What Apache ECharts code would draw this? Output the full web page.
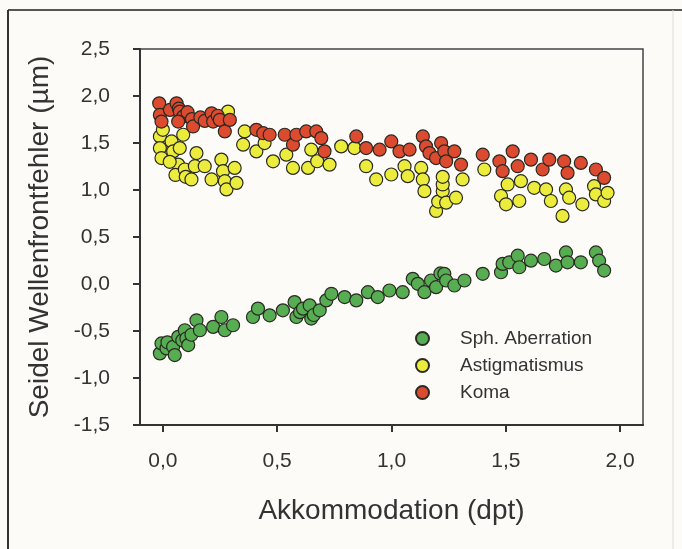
<!DOCTYPE html>
<html>
<head>
<meta charset="utf-8">
<script src="https://cdn.jsdelivr.net/npm/echarts@6/dist/echarts.min.js"></script>
<style>
  html, body { margin: 0; padding: 0; background: #fdfbf8; }
  #chart { width: 682px; height: 549px; }
</style>
</head>
<body>
<div id="chart"></div>
<script>
var sphAberration = [
  [-0.013, -0.738], [-0.006, -0.632], [0.016, -0.685], [0.020, -0.620], [0.045, -0.668],
  [0.052, -0.756], [0.067, -0.562], [0.085, -0.600], [0.096, -0.492], [0.103, -0.580],
  [0.111, -0.650], [0.125, -0.540], [0.147, -0.386], [0.162, -0.492], [0.220, -0.456],
  [0.256, -0.351], [0.271, -0.492], [0.307, -0.439], [0.394, -0.351], [0.416, -0.262],
  [0.467, -0.333], [0.525, -0.280], [0.576, -0.192], [0.584, -0.351], [0.600, -0.300],
  [0.613, -0.262], [0.642, -0.227], [0.649, -0.368], [0.660, -0.330], [0.686, -0.280],
  [0.715, -0.174], [0.737, -0.104], [0.795, -0.139], [0.846, -0.174], [0.897, -0.087],
  [0.940, -0.139], [0.991, -0.069], [1.049, -0.087], [1.093, 0.055], [1.115, 0.002],
  [1.144, -0.087], [1.173, 0.037], [1.195, -0.034], [1.214, 0.112], [1.231, 0.108],
  [1.239, 0.037], [1.275, -0.016], [1.319, 0.037], [1.399, 0.108], [1.479, 0.125],
  [1.486, 0.214], [1.515, 0.231], [1.552, 0.301], [1.559, 0.178], [1.610, 0.248],
  [1.668, 0.266], [1.719, 0.196], [1.763, 0.336], [1.770, 0.231], [1.828, 0.231],
  [1.894, 0.336], [1.908, 0.248], [1.930, 0.143]
];

var astigmatismus = [
  [-0.013, 1.570], [-0.013, 1.446], [-0.006, 1.340], [0.000, 1.640], [0.038, 1.517],
  [0.045, 1.411], [0.089, 1.588], [0.074, 1.446], [0.067, 1.270], [0.030, 1.300],
  [0.055, 1.160], [0.096, 1.218], [0.100, 1.140], [0.125, 1.112], [0.147, 1.393],
  [0.140, 1.253], [0.183, 1.253], [0.213, 1.112], [0.256, 1.323], [0.263, 1.200],
  [0.271, 1.094], [0.278, 1.006], [0.314, 1.235], [0.322, 1.076], [0.285, 1.834],
  [0.358, 1.623], [0.351, 1.482], [0.409, 1.411], [0.445, 1.499], [0.482, 1.305],
  [0.540, 1.376], [0.569, 1.235], [0.635, 1.235], [0.649, 1.429], [0.675, 1.306],
  [0.729, 1.270], [0.780, 1.464], [0.838, 1.446], [0.889, 1.253], [0.933, 1.112],
  [0.999, 1.165], [1.057, 1.253], [1.071, 1.147], [1.130, 1.235], [1.137, 1.112],
  [1.144, 0.988], [1.195, 0.777], [1.204, 0.877], [1.224, 0.988], [1.224, 1.059],
  [1.224, 1.140], [1.239, 0.865], [1.282, 0.918], [1.311, 1.112], [1.406, 1.218],
  [1.479, 0.936], [1.508, 1.059], [1.501, 0.848], [1.559, 0.883], [1.566, 1.094],
  [1.624, 1.023], [1.676, 1.006], [1.697, 0.883], [1.748, 0.724], [1.763, 1.006],
  [1.777, 0.918], [1.835, 0.848], [1.886, 1.041], [1.894, 0.953], [1.930, 0.883],
  [1.945, 0.970]
];

var koma = [
  [-0.016, 1.922], [-0.013, 1.799], [-0.006, 1.728], [0.031, 1.852], [0.060, 1.922],
  [0.070, 1.866], [0.074, 1.834], [0.089, 1.781], [0.067, 1.728], [0.108, 1.828],
  [0.127, 1.754], [0.132, 1.676], [0.164, 1.772], [0.183, 1.735], [0.213, 1.816],
  [0.220, 1.728], [0.240, 1.790], [0.249, 1.746], [0.271, 1.623], [0.293, 1.746],
  [0.409, 1.640], [0.439, 1.604], [0.467, 1.588], [0.533, 1.588], [0.569, 1.482],
  [0.584, 1.588], [0.627, 1.623], [0.671, 1.623], [0.693, 1.552], [0.707, 1.411],
  [0.846, 1.570], [0.889, 1.446], [0.948, 1.429], [0.999, 1.517], [1.035, 1.411],
  [1.079, 1.429], [1.137, 1.570], [1.151, 1.464], [1.166, 1.393], [1.195, 1.340],
  [1.217, 1.499], [1.231, 1.411], [1.239, 1.305], [1.275, 1.411], [1.304, 1.270],
  [1.399, 1.376], [1.472, 1.305], [1.486, 1.200], [1.530, 1.411], [1.552, 1.253],
  [1.610, 1.323], [1.661, 1.218], [1.690, 1.323], [1.755, 1.305], [1.770, 1.182],
  [1.828, 1.288], [1.894, 1.218], [1.930, 1.129]
];

var xTicks = [0, 0.5, 1.0, 1.5, 2.0];
var seriesNames = ["Sph. Aberration", "Astigmatismus", "Koma"];

var chart = echarts.init(document.getElementById("chart"));

function komma(v) {
  return v.toFixed(1).replace(".", ",");
}

var fontName = "Liberation Sans";

function punkte(name, data, farbe) {
  return {
    name: name,
    type: "scatter",
    symbol: "circle",
    symbolSize: 13,
    data: data,
    itemStyle: {
      color: farbe,
      borderColor: "#2a2a22",
      borderWidth: 1.2,
      opacity: 1
    }
  };
}

var option = {
  backgroundColor: "#fdfbf8",
  animation: false,
  grid: {
    left: 140,
    right: 39,
    top: 49,
    bottom: 124,
    show: true,
    borderColor: "#444",
    borderWidth: 1.5,
    backgroundColor: "transparent",
    containLabel: false,
    outerBoundsMode: "none"
  },
  legend: {
    orient: "vertical",
    left: 410,
    top: 324,
    itemWidth: 13,
    itemHeight: 13,
    itemGap: 8,
    data: seriesNames,
    textStyle: { fontFamily: fontName, fontSize: 19, color: "#333", padding: [0, 0, 0, 26] }
  },
  xAxis: {
    type: "value",
    min: -0.1,
    max: 2.1,
    name: "Akkommodation (dpt)",
    nameLocation: "middle",
    nameGap: 72,
    nameTextStyle: { fontFamily: fontName, fontSize: 28, color: "#333" },
    axisLine: { onZero: false, lineStyle: { color: "#333", width: 2 } },
    axisTick: { show: true, length: 7, customValues: xTicks, lineStyle: { color: "#333", width: 2 } },
    axisLabel: {
      customValues: xTicks,
      margin: 26,
      fontFamily: fontName,
      fontSize: 21,
      color: "#333",
      formatter: komma
    },
    splitLine: { show: false }
  },
  yAxis: {
    type: "value",
    min: -1.5,
    max: 2.5,
    interval: 0.5,
    name: "Seidel Wellenfrontfehler (µm)",
    nameLocation: "middle",
    nameGap: 86,
    nameTextStyle: { fontFamily: fontName, fontSize: 28, color: "#333" },
    axisLine: { onZero: false, lineStyle: { color: "#333", width: 2 } },
    axisTick: { show: true, length: 7, lineStyle: { color: "#333", width: 2 } },
    axisLabel: {
      margin: 30,
      fontFamily: fontName,
      fontSize: 21,
      color: "#333",
      formatter: komma
    },
    splitLine: { show: false }
  },
  graphic: [
    { type: "line", shape: { x1: 8, y1: 10, x2: 682, y2: 10 }, style: { stroke: "#555", lineWidth: 2 } },
    { type: "line", shape: { x1: 8, y1: 10, x2: 8, y2: 549 }, style: { stroke: "#333", lineWidth: 2 } },
    { type: "line", shape: { x1: 673, y1: 10, x2: 673, y2: 549 }, style: { stroke: "#ddd", lineWidth: 1 } }
  ],
  series: [
    punkte(seriesNames[0], sphAberration, "#56ad52"),
    punkte(seriesNames[1], astigmatismus, "#ecec3c"),
    punkte(seriesNames[2], koma, "#dc4a30")
  ]
};

chart.setOption(option);
</script>
</body>
</html>
